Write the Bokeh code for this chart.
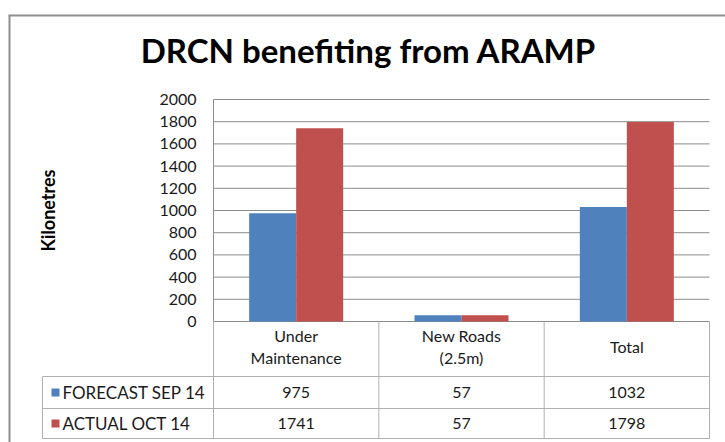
import numpy as np
from bokeh.plotting import figure
from bokeh.models import Range1d, ColumnDataSource
from bokeh.core.properties import value
from bokeh.transform import dodge
from bokeh.embed import file_html
from bokeh.resources import INLINE

# ---------------- data ----------------
title = "DRCN benefiting from ARAMP"
y_label = "Kilonetres"
categories = ["Under\nMaintenance", "New Roads\n(2.5m)", "Total"]
series_names = ["FORECAST SEP 14", "ACTUAL OCT 14"]
forecast = [975, 57, 1032]
actual = [1741, 57, 1798]
y_ticks = [0, 200, 400, 600, 800, 1000, 1200, 1400, 1600, 1800, 2000]
colors = ["#4F81BD", "#C0504D"]

# ---------------- layout (pixels) ----------------
W, H = 725, 442
PLOT_L, PLOT_R = 213, 709        # plot area left/right
Y0_PX, YMAX_PX = 321, 99         # y pixel of 0 and of top tick
COL = (PLOT_R - PLOT_L) / len(categories)
YMAX = y_ticks[-1]


def fx(sx):
    return (sx - PLOT_L) / COL


def fy(sy):
    return (Y0_PX - sy) * YMAX / (Y0_PX - YMAX_PX)


FONT = value("Lato")
TXT = "#1a1a1a"

p = figure(width=W, height=H, min_border=0,
           x_range=Range1d(fx(0), fx(W)),
           y_range=Range1d(fy(H), fy(0)),
           x_axis_type=None, y_axis_type=None,
           toolbar_location=None, output_backend="svg")
p.grid.visible = False
p.outline_line_color = None
p.background_fill_color = "white"
p.border_fill_color = "white"

n = len(categories)
xc = [i + 0.5 for i in range(n)]
src = ColumnDataSource(dict(x=xc, forecast=forecast, actual=actual))

# gridlines
p.segment(x0=[0] * len(y_ticks), x1=[n] * len(y_ticks), y0=y_ticks, y1=y_ticks,
          line_color="#8c8c8c", line_width=1)
# left axis line
p.segment(x0=[0], x1=[0], y0=[0], y1=[YMAX], line_color="#8c8c8c", line_width=1)

# bars
bw = 47 / COL
p.vbar(x=dodge("x", -bw / 2, range=p.x_range), top="forecast", width=bw, bottom=0,
       source=src, fill_color=colors[0], line_color=None)
p.vbar(x=dodge("x", bw / 2, range=p.x_range), top="actual", width=bw, bottom=0,
       source=src, fill_color=colors[1], line_color=None)

# tick labels
p.text(x=[fx(196)] * len(y_ticks), y=y_ticks, text=[str(t) for t in y_ticks],
       text_align="right", text_baseline="middle", text_font=FONT,
       text_font_size="16px", text_color=TXT)

# title
p.text(x=[fx(368)], y=[fy(49)], text=[title], text_align="center",
       text_baseline="middle", text_font=FONT, text_font_style="bold",
       text_font_size="33px", text_color="#000000")

# y axis label
p.text(x=[fx(47)], y=[fy(210)], text=[y_label], angle=np.pi / 2,
       text_align="center", text_baseline="middle", text_font=FONT,
       text_font_style="bold", text_font_size="18px", text_color="#000000")

# ---------------- data table ----------------
TBL_L = 42
ROW_TOPS = [376, 408]
TBL_B = 438
tcol = "#b0b0b0"
hy = [fy(v) for v in ROW_TOPS + [TBL_B]]
p.segment(x0=[fx(TBL_L)] * 3, x1=[n] * 3, y0=hy, y1=hy, line_color=tcol, line_width=1)
p.segment(x0=list(range(n + 1)), x1=list(range(n + 1)),
          y0=[0] * (n + 1), y1=[fy(TBL_B)] * (n + 1), line_color=tcol, line_width=1)
p.segment(x0=[fx(TBL_L)], x1=[fx(TBL_L)], y0=[fy(ROW_TOPS[0])], y1=[fy(TBL_B)],
          line_color=tcol, line_width=1)

# header (one text per line)
LINE_GAP = 22
HEAD_MID = 346
for i, cat in enumerate(categories):
    lines = cat.split("\n")
    k = len(lines)
    for j, ln in enumerate(lines):
        yy = HEAD_MID + (j - (k - 1) / 2) * LINE_GAP
        p.text(x=[xc[i]], y=[fy(yy)], text=[ln], text_align="center",
               text_baseline="middle", text_font=FONT, text_font_size="16px",
               text_color=TXT)

row_centers = [392, 423]
for r, (name, vals) in enumerate(zip(series_names, [forecast, actual])):
    yc = fy(row_centers[r])
    p.text(x=xc, y=[yc] * n, text=[str(v) for v in vals], text_align="center",
           text_baseline="middle", text_font=FONT, text_font_size="16px",
           text_color=TXT)
    p.scatter(x=[fx(55)], y=[yc], marker="square", size=8,
              fill_color=colors[r], line_color=None)
    p.text(x=[fx(62)], y=[yc], text=[name], text_align="left",
           text_baseline="middle", text_font=FONT, text_font_size="17px",
           text_color=TXT)

# outer chart border (top and left visible)
bc = "#8f8f8f"
p.segment(x0=[fx(8)], x1=[fx(W)], y0=[fy(15)], y1=[fy(15)],
          line_color=bc, line_width=2)
p.segment(x0=[fx(9)], x1=[fx(9)], y0=[fy(15)], y1=[fy(H)],
          line_color=bc, line_width=2)

open("out.html", "w").write(file_html(p, INLINE))
